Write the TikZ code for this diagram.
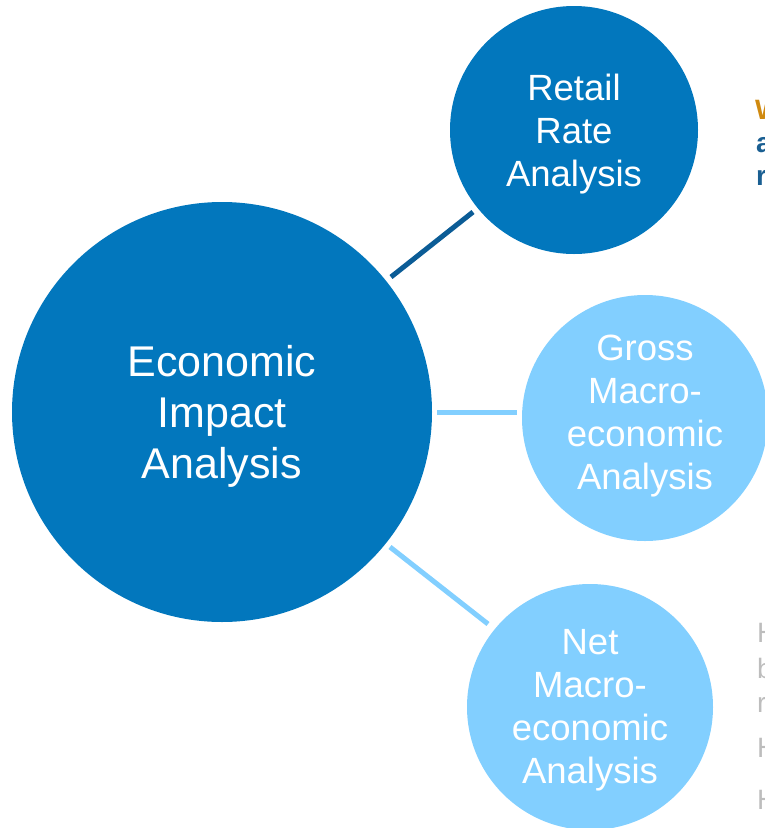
\documentclass[tikz,border=0pt]{standalone}
\usepackage{fontspec}
\setmainfont{Liberation Sans}
\definecolor{darkc}{HTML}{0277BD}
\definecolor{lightc}{HTML}{82CFFF}
\definecolor{linedark}{HTML}{0B5C96}
\definecolor{orangec}{HTML}{D08A10}
\definecolor{bluet}{HTML}{1A5F92}
\definecolor{grayt}{HTML}{BDBDBD}
\begin{document}
\begin{tikzpicture}[x=1pt,y=-1pt,
  bigc/.style={circle,fill=darkc,minimum size=420pt,inner sep=0pt,text=white,align=center,font=\fontsize{43}{51}\selectfont},
  darkcirc/.style={circle,fill=darkc,minimum size=248pt,inner sep=0pt,text=white,align=center,font=\fontsize{36.5}{43}\selectfont},
  lightcirc/.style={circle,fill=lightc,minimum size=246pt,inner sep=0pt,text=white,align=center,font=\fontsize{36.5}{43}\selectfont},
  conn/.style={line width=5pt},
  edge/.style={anchor=west,inner sep=0pt,font=\fontsize{28}{34}\selectfont}]
\useasboundingbox (0,0) rectangle (765,828);
\clip (0,0) rectangle (765,828);
\node[bigc] (eia) at (222,412) {};
\node[text=white,align=center,font=\fontsize{43}{51}\selectfont] (eiat) at (222,416) {Economic\\Impact\\Analysis};
\node[darkcirc] (rra) at (574,130) {};
\node[text=white,align=center,font=\fontsize{36.5}{43}\selectfont] (rrat) at (574,134) {Retail\\Rate\\Analysis};
\node[lightcirc] (gma) at (645,418) {};
\node[text=white,align=center,font=\fontsize{36.5}{43}\selectfont] (gmat) at (645,416) {Gross\\Macro-\\economic\\Analysis};
\node[lightcirc] (nma) at (590,707) {};
\node[text=white,align=center,font=\fontsize{36.5}{43}\selectfont] (nmat) at (590,710) {Net\\Macro-\\economic\\Analysis};
\coordinate (a1) at (391,277); \coordinate (a2) at (473,212);
\coordinate (b1) at (437,412); \coordinate (b2) at (517,412);
\coordinate (c1) at (390,547); \coordinate (c2) at (488,624);
\draw[conn,linedark] (a1) -- (a2);
\draw[conn,lightc] (b1) -- (b2);
\draw[conn,lightc] (c1) -- (c2);
\node[edge,text=orangec,font=\bfseries\fontsize{28}{34}\selectfont] (w1) at (755,110) {W};
\node[edge,text=bluet,font=\bfseries\fontsize{28}{34}\selectfont] (w2) at (756,145) {a};
\node[edge,text=bluet,font=\bfseries\fontsize{28}{34}\selectfont] (w3) at (756,178) {r};
\node[edge,text=grayt] (g1) at (757,633) {H};
\node[edge,text=grayt] (g2) at (757,668) {b};
\node[edge,text=grayt] (g3) at (757,705) {r};
\node[edge,text=grayt] (g4) at (757,748) {H};
\node[edge,text=grayt] (g5) at (757,800) {H};
\end{tikzpicture}
\end{document}
